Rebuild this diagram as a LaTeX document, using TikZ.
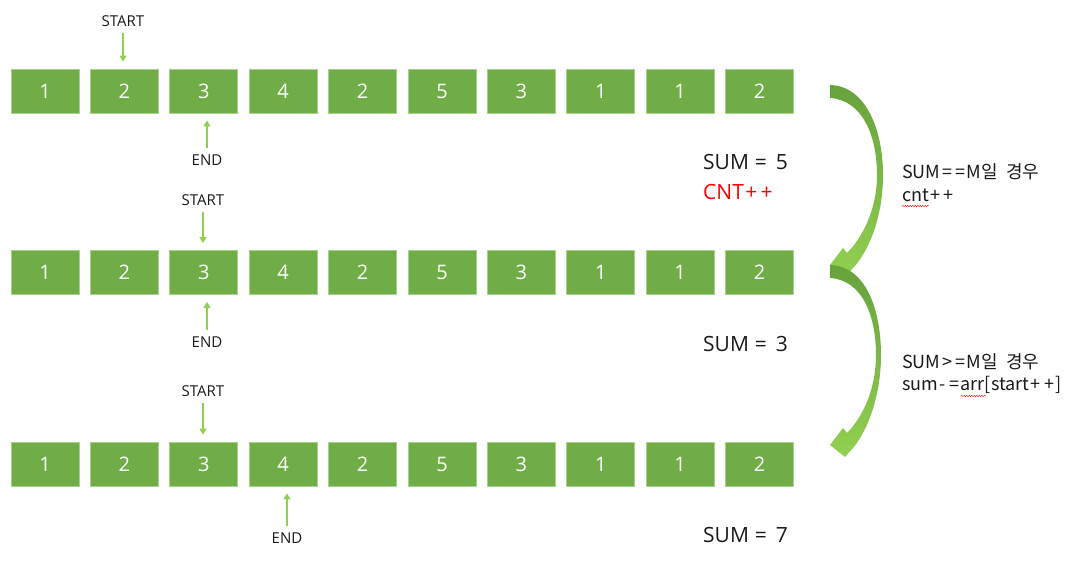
\documentclass[tikz,border=0pt]{standalone}
\usepackage{fontspec}
\setmainfont{Open Sans}
\newfontfamily\krfont{Noto Sans CJK KR}
\usetikzlibrary{arrows.meta,decorations.pathmorphing}
\definecolor{boxgreen}{HTML}{70AD47}
\definecolor{boxedge}{HTML}{A9D18E}
\definecolor{ptrgreen}{HTML}{92D050}
\definecolor{arrdark}{HTML}{67A23C}
\definecolor{arrmid}{HTML}{86C44A}
\definecolor{arrlight}{HTML}{92D050}
\definecolor{txt}{HTML}{1A1A1A}
\newcommand{\sy}[1]{\kern1.6pt#1\kern1.6pt}
\tikzset{
  cell/.style={fill=boxgreen, draw=boxedge, line width=0.8pt, minimum width=68pt, minimum height=44pt, inner sep=0pt, text=white, font=\fontsize{20}{24}\selectfont},
  ptrlabel/.style={font=\fontsize{15}{18}\selectfont, inner sep=0pt, text=txt},
  ptr/.style={draw=ptrgreen, line width=1.6pt, -{Triangle[length=6pt,width=7pt]}},
  sumlabel/.style={font=\fontsize{21}{25}\selectfont, anchor=west, inner sep=0pt, text=txt},
  note/.style={font=\krfont\fontsize{18}{21}\selectfont, anchor=west, inner sep=0pt, text=txt},
  bigarrow/.style={top color=arrdark, middle color=arrmid, bottom color=arrlight, draw=none},
  squiggle/.style={draw=red, line width=0.4pt, decorate, decoration={snake, amplitude=0.7pt, segment length=2.5pt}},
}
\begin{document}
\begin{tikzpicture}[x=1pt,y=-1pt]
\useasboundingbox (0,0) rectangle (1072,564);
% rows of cells
\foreach \v [count=\i from 0] in {1,2,3,4,2,5,3,1,1,2}{
  \node[cell] (a\i) at ({45+79.4*\i},91) {\v};
  \node[cell] (b\i) at ({45+79.4*\i},272.5) {\v};
  \node[cell] (c\i) at ({45+79.4*\i},464) {\v};
}
% row 1 pointers
\node[ptrlabel] (s1) at (123,21) {START};
\draw[ptr] ([yshift=-6pt]s1.south) -- ([yshift=7pt]s1.south |- a1.north);
\node[ptrlabel] (e1) at (207,160) {END};
\draw[ptr] ([yshift=6pt]e1.north) -- ([yshift=-7pt]e1.north |- a2.south);
% row 2 pointers
\node[ptrlabel] (s2) at (203,200) {START};
\draw[ptr] ([yshift=-6pt]s2.south) -- ([yshift=7pt]s2.south |- b2.north);
\node[ptrlabel] (e2) at (207,342) {END};
\draw[ptr] ([yshift=6pt]e2.north) -- ([yshift=-7pt]e2.north |- b2.south);
% row 3 pointers
\node[ptrlabel] (s3) at (203,391) {START};
\draw[ptr] ([yshift=-6pt]s3.south) -- ([yshift=7pt]s3.south |- c2.north);
\node[ptrlabel] (e3) at (287,538) {END};
\draw[ptr] ([yshift=6pt]e3.north) -- ([yshift=-7pt]e3.north |- c3.south);
% sums
\node[sumlabel] (sum1) at (703,162) {SUM\hspace{6pt}=\hspace{9pt}5};
\node[sumlabel, text=red] (cnt) at (703,192) {CNT\sy{+}\sy{+}};
\node[sumlabel] (sum2) at (703,344) {SUM\hspace{6pt}=\hspace{9pt}3};
\node[sumlabel] (sum3) at (703,535) {SUM\hspace{6pt}=\hspace{9pt}7};
% notes
\node[note] (n1) at (902,172) {SUM\sy{=}\sy{=}M일\hspace{8pt}경우};
\node[note] (n2) at (902,195) {cnt\sy{+}\sy{+}};
\node[note] (n3) at (902,362) {SUM\sy{>}\sy{=}M일\hspace{8pt}경우};
\node[note] (n4) at (902,385) {sum\sy{-}\sy{=}arr[start\sy{+}\sy{+}]};
\draw[squiggle] (902,206) -- (929,206);
\draw[squiggle] (961,396) -- (986,396);
% curved arrows
\shade[bigarrow] (830,85) .. controls (866,86) and (883,130) .. (883,175)
  .. controls (883,215) and (870,250) .. (853,268)
  -- (845,277) -- (830,265) -- (843,248) -- (847,253)
  .. controls (862,238) and (877,210) .. (877,175)
  .. controls (877,135) and (862,100) .. (830,98) -- cycle;
\shade[bigarrow] (830,265) .. controls (866,266) and (881,310) .. (881,355)
  .. controls (881,395) and (868,430) .. (853,448)
  -- (845,457) -- (830,445) -- (843,428) -- (847,433)
  .. controls (862,418) and (876,390) .. (876,355)
  .. controls (876,315) and (862,280) .. (830,278) -- cycle;
\end{tikzpicture}
\end{document}
